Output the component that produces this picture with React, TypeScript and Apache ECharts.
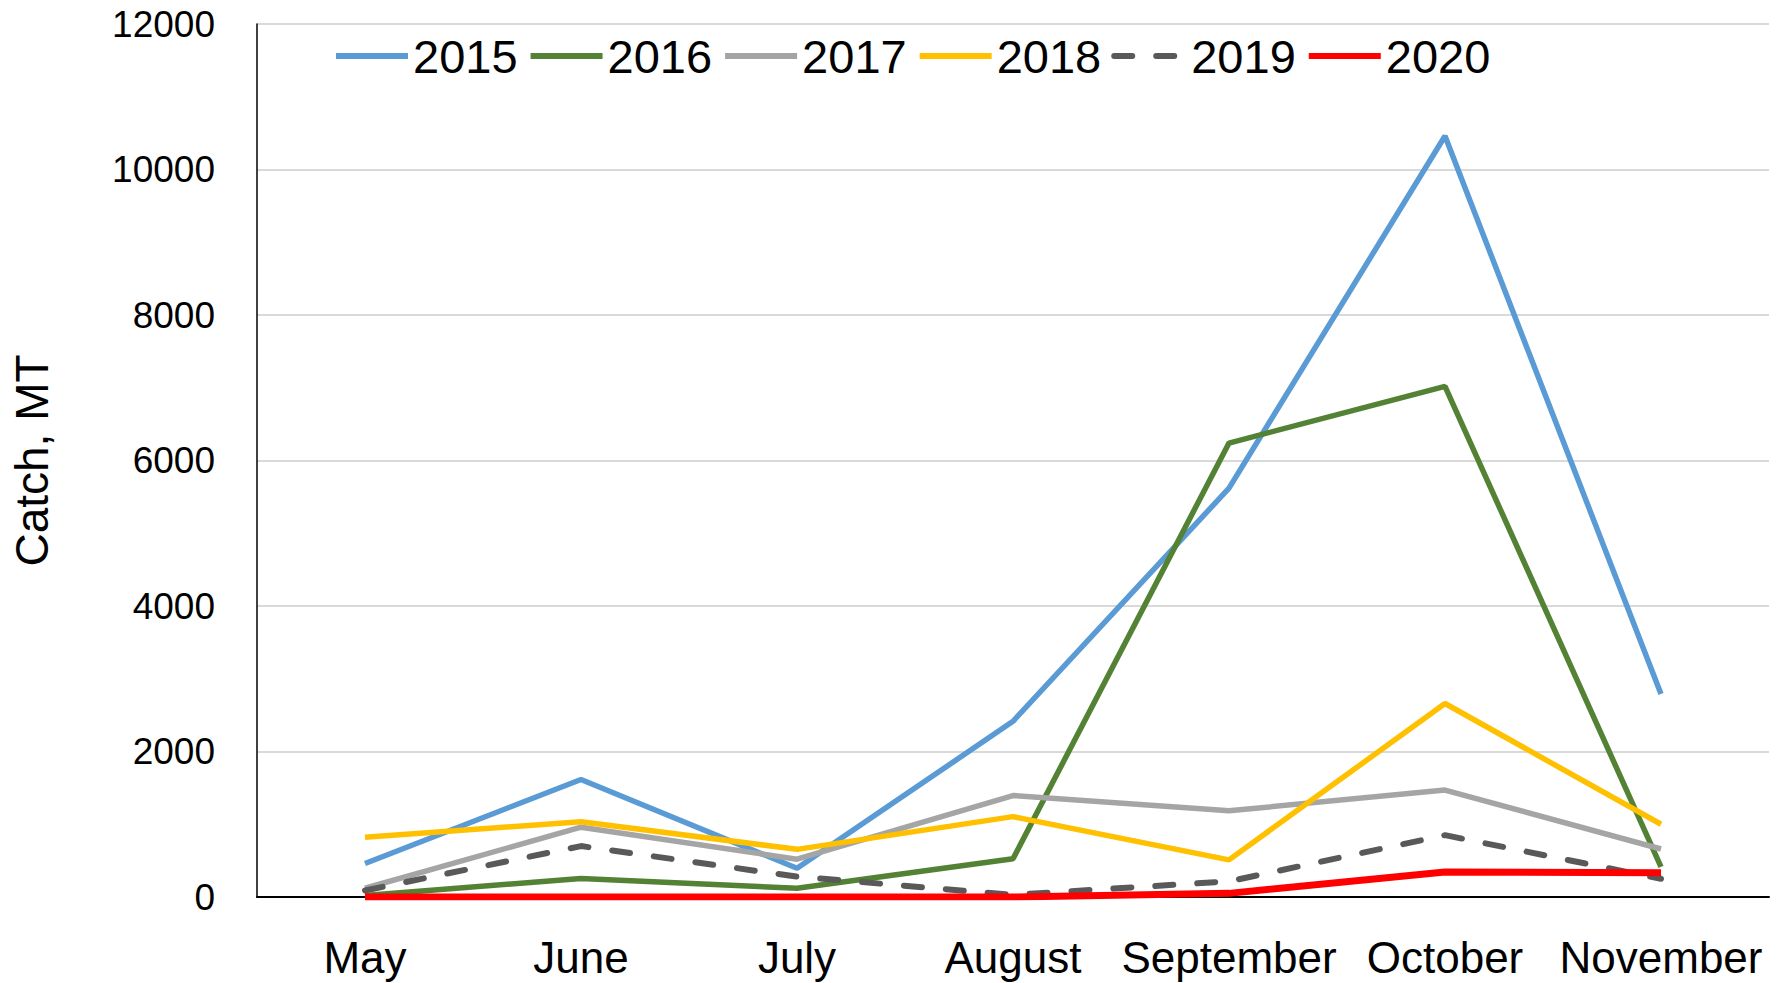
import React, { useEffect, useRef } from "react";
import * as echarts from "echarts";

const months = ["May", "June", "July", "August", "September", "October", "November"];
const years = ["2015", "2016", "2017", "2018", "2019", "2020"];
const catch2015 = [460, 1615, 395, 2415, 5620, 10460, 2790];
const catch2016 = [20, 255, 120, 525, 6240, 7020, 415];
const catch2017 = [120, 960, 520, 1395, 1185, 1470, 660];
const catch2018 = [820, 1035, 655, 1105, 510, 2660, 1000];
const catch2019 = [90, 700, 280, 30, 215, 850, 250];
const catch2020 = [0, 0, 0, 0, 50, 345, 335];
const yTicks = { min: 0, max: 12000, interval: 2000 };

const seriesData = [catch2015, catch2016, catch2017, catch2018, catch2019, catch2020];
const colors = ["#5B9BD5", "#548235", "#A5A5A5", "#FFC000", "#595959", "#FF0000"];
const widths = [5.5, 5.5, 5.5, 5.5, 6, 7];

const FONT = "'Liberation Sans', Arial, sans-serif";

export default function App() {
  const ref = useRef<HTMLDivElement>(null);
  useEffect(() => {
    if (!ref.current) return;
    const chart = echarts.init(ref.current, null, { renderer: "svg" });
    chart.setOption({
      animation: false,
      backgroundColor: "#ffffff",
      textStyle: { fontFamily: FONT, color: "#000" },
      grid: { left: 257, right: 17, top: 24, bottom: 86, containLabel: false },
      legend: {
        data: years,
        left: 328,
        top: 26,
        itemWidth: 72,
        itemHeight: 14,
        itemGap: 10,
        itemStyle: { color: "transparent", borderColor: "transparent", borderWidth: 0, opacity: 0 },
        lineStyle: { width: 6 },
        textStyle: { fontSize: 47, color: "#000", fontFamily: FONT, lineHeight: 50 },
      },
      xAxis: {
        type: "category",
        data: months,
        boundaryGap: true,
        axisLine: { show: true, lineStyle: { color: "#000", width: 2 } },
        axisTick: { show: false },
        axisLabel: { fontSize: 44, color: "#000", margin: 38, fontFamily: FONT, interval: 0 },
        splitLine: { show: false },
      },
      yAxis: {
        type: "value",
        min: yTicks.min,
        max: yTicks.max,
        interval: yTicks.interval,
        name: "Catch, MT",
        nameLocation: "middle",
        nameGap: 202,
        nameTextStyle: { fontSize: 46, color: "#000", fontFamily: FONT },
        axisLine: { show: true, lineStyle: { color: "#000", width: 1.5 } },
        axisTick: { show: false },
        axisLabel: {
          fontSize: 37,
          color: "#000",
          margin: 42,
          fontFamily: FONT,
          formatter: (v: number) => String(v),
        },
        splitLine: { show: true, lineStyle: { color: "#D9D9D9", width: 2 } },
      },
      series: years.map((y, i) => ({
        name: y,
        type: "line",
        data: seriesData[i],
        symbol: "none",
        color: colors[i],
        lineStyle: {
          color: colors[i],
          width: widths[i],
          type: i === 4 ? [18, 24] : "solid",
          cap: i === 4 ? "round" : "butt",
        },
        z: 2 + i,
      })),
    });
    return () => chart.dispose();
  }, []);
  return (
    <div
      ref={ref}
      style={{ position: "fixed", left: 0, top: 0, width: 1786, height: 983, background: "#fff" }}
    />
  );
}
